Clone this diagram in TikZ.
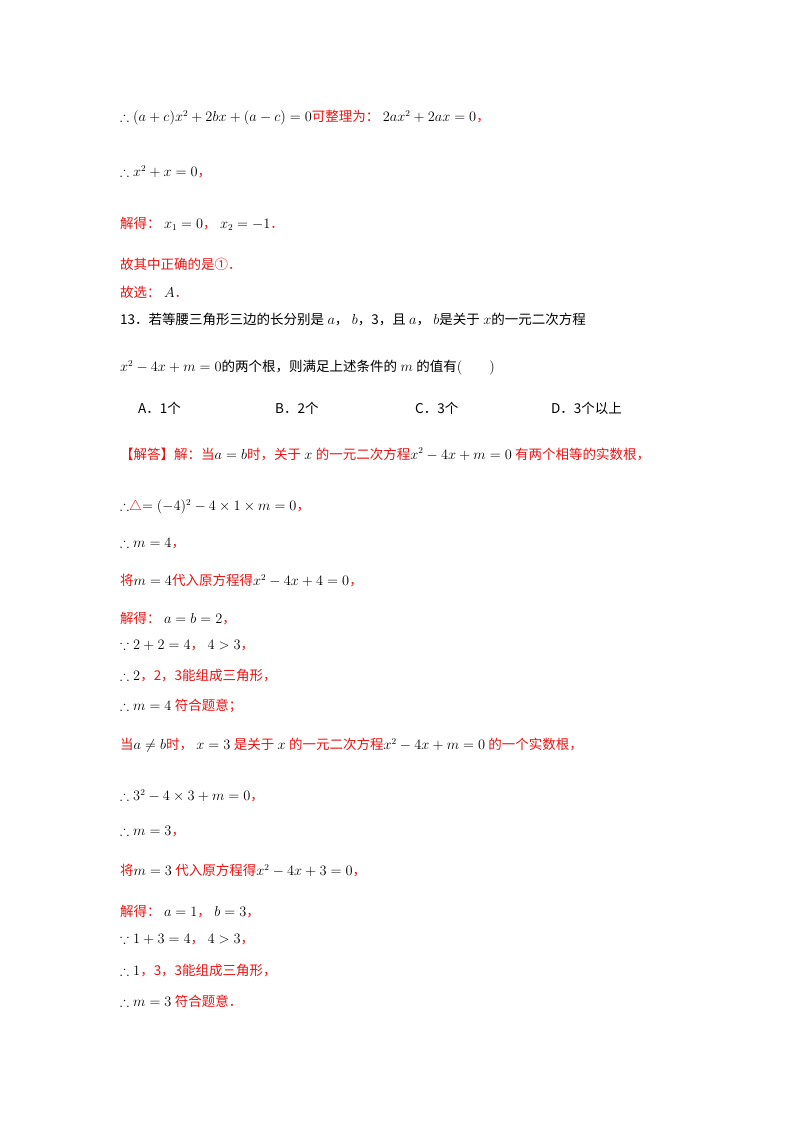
\documentclass[tikz,border=0pt]{standalone}
\usepackage{amsmath,amssymb}
\usepackage{fontspec}
\setmainfont{Liberation Serif}
\newfontfamily\cjk{Noto Sans CJK SC}
\definecolor{rd}{RGB}{235,20,20}
\newcommand{\rr}[1]{\textcolor{rd}{\cjk #1}}
\newcommand{\bk}[1]{{\cjk #1}}
\begin{document}
\begin{tikzpicture}[x=1pt,y=-1pt,every node/.style={anchor=west,inner sep=0pt,font=\fontsize{13.5}{16}\selectfont}]
\useasboundingbox[fill=white] (0,0) rectangle (800,1132);
\node (l1) at (120,118) {$\therefore(a+c)x^2+2bx+(a-c)=0$\rr{可整理为：}\ $2ax^2+2ax=0$\rr{，}};
\node (l2) at (120,172) {$\therefore x^2+x=0$\rr{，}};
\node (l3) at (120,224) {\rr{解得：}\ $x_1=0$\rr{，}\ $x_2=-1$\rr{．}};
\node (l4) at (120,264) {\rr{故其中正确的是①．}};
\node (l5) at (120,292) {\rr{故选：}\ $A$\rr{．}};
\node (l6) at (120,320) {\bk{13．若等腰三角形三边的长分别是}\ $a$\bk{，}\ $b$\bk{，3，且}\ $a$\bk{，}\ $b$\bk{是关于}\ $x$\bk{的一元二次方程}};
\node (l7) at (120,368) {$x^2-4x+m=0$\bk{的两个根，则满足上述条件的}\ $m$\ \bk{的值有}$(\qquad)$};
\node (oa) at (138,408) {\bk{A．1个}};
\node (ob) at (275,408) {\bk{B．2个}};
\node (oc) at (415,408) {\bk{C．3个}};
\node (od) at (551,408) {\bk{D．3个以上}};
\node (s1) at (120,454) {\rr{【解答】解：当}$a=b$\rr{时，关于}\ $x$\ \rr{的一元二次方程}$x^2-4x+m=0$\ \rr{有两个相等的实数根，}};
\node (s2) at (120,507) {$\therefore$\textcolor{rd}{$\triangle$}$=(-4)^2-4\times1\times m=0$\rr{，}};
\node (s3) at (120,544) {$\therefore m=4$\rr{，}};
\node (s4) at (120,581) {\rr{将}$m=4$\rr{代入原方程得}$x^2-4x+4=0$\rr{，}};
\node (s5) at (120,619) {\rr{解得：}\ $a=b=2$\rr{，}};
\node (s6) at (120,646) {$\because 2+2=4$\rr{，}\ $4>3$\rr{，}};
\node (s7) at (120,676) {$\therefore 2$\rr{，2，3能组成三角形，}};
\node (s8) at (120,706) {$\therefore m=4$\ \rr{符合题意；}};
\node (s9) at (120,745) {\rr{当}$a\neq b$\rr{时，}\ $x=3$\ \rr{是关于}\ $x$\ \rr{的一元二次方程}$x^2-4x+m=0$\ \rr{的一个实数根，}};
\node (s10) at (120,796) {$\therefore 3^2-4\times3+m=0$\rr{，}};
\node (s11) at (120,832) {$\therefore m=3$\rr{，}};
\node (s12) at (120,871) {\rr{将}$m=3$\ \rr{代入原方程得}$x^2-4x+3=0$\rr{，}};
\node (s13) at (120,912) {\rr{解得：}\ $a=1$\rr{，}\ $b=3$\rr{，}};
\node (s14) at (120,940) {$\because 1+3=4$\rr{，}\ $4>3$\rr{，}};
\node (s15) at (120,971) {$\therefore 1$\rr{，3，3能组成三角形，}};
\node (s16) at (120,1001) {$\therefore m=3$\ \rr{符合题意．}};
\end{tikzpicture}
\end{document}
